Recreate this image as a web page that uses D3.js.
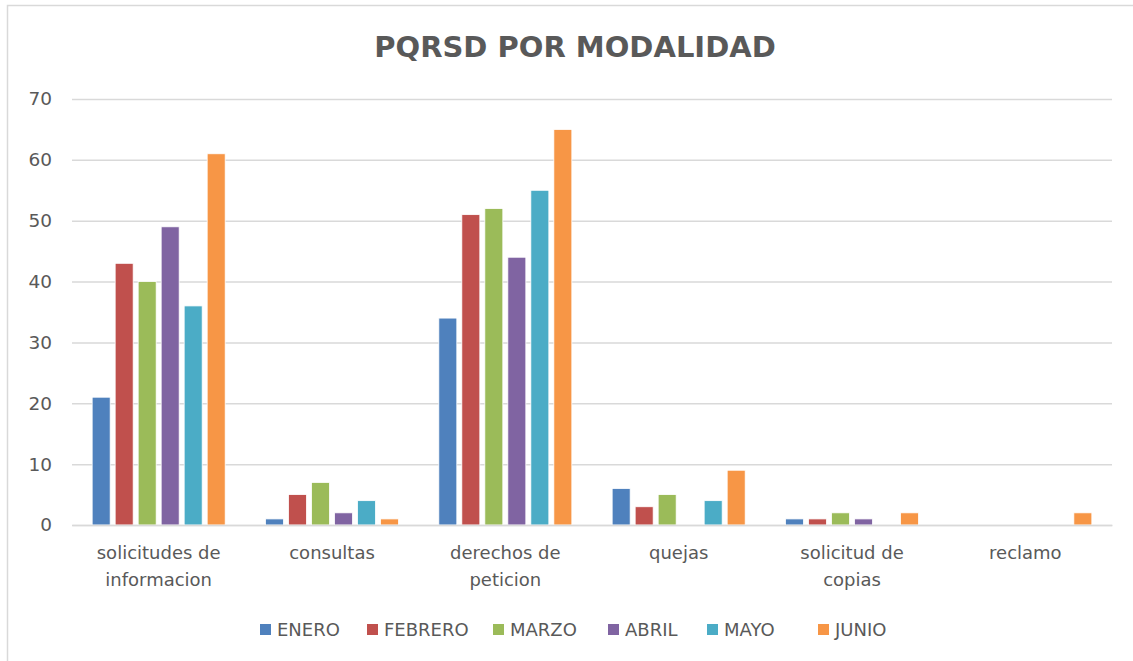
<!DOCTYPE html>
<html><head><meta charset="utf-8">
<script src="https://cdn.jsdelivr.net/npm/d3@7/dist/d3.min.js"></script>
<style>body{margin:0;background:#fff}svg{display:block}</style>
</head><body>
<svg id="c" width="1133" height="661"></svg>
<script>
const categories = [["solicitudes de","informacion"],["consultas"],["derechos de","peticion"],["quejas"],["solicitud de","copias"],["reclamo"]];
const months = ["ENERO","FEBRERO","MARZO","ABRIL","MAYO","JUNIO"];
const colors = ["#4F81BD","#C0504D","#9BBB59","#8064A2","#4BACC6","#F79646"];
const enero   = [21,1,34,6,1,0];
const febrero = [43,5,51,3,1,0];
const marzo   = [40,7,52,5,2,0];
const abril   = [49,2,44,0,1,0];
const mayo    = [36,4,55,4,0,0];
const junio   = [61,1,65,9,2,2];
const series = [enero,febrero,marzo,abril,mayo,junio];
const yTicks = [0,10,20,30,40,50,60,70];

const font = "'DejaVu Sans', sans-serif";
const svg = d3.select("#c");
svg.append("rect").attr("x",7.5).attr("y",5.5).attr("width",1140).attr("height",670)
  .attr("fill","#fff").attr("stroke","#d9d9d9").attr("stroke-width",1.5);

const L=72, R=1112, T=99, B=525;
const x0 = d3.scaleBand().domain(d3.range(categories.length)).range([L,R]).paddingInner(0).paddingOuter(0);
const x1 = d3.scaleBand().domain(d3.range(months.length)).range([0,x0.bandwidth()]).paddingOuter(0.876).paddingInner(0.217);
const y = d3.scaleLinear().domain([0,70]).range([B,T]);

const yAxis = d3.axisLeft(y).tickValues(yTicks).tickSize(-(R-L)).tickPadding(20);
const gy = svg.append("g").attr("transform",`translate(${L},0)`).call(yAxis);
gy.select(".domain").remove();
gy.selectAll(".tick line").attr("stroke","#d9d9d9").attr("stroke-width",1.5);
gy.selectAll(".tick text").attr("fill","#595959").style("font-family",font).style("font-size","18.5px");

const g = svg.append("g");
series.forEach((s,si)=>{
  g.selectAll(null).data(s).enter().append("rect")
    .attr("x",(d,i)=>x0(i)+x1(si))
    .attr("y",d=>y(d))
    .attr("width",x1.bandwidth())
    .attr("height",d=>y(0)-y(d))
    .attr("fill",colors[si])
    .attr("stroke","#fff").attr("stroke-width",0.8);
});

const xAxis = d3.axisBottom(x0).tickSize(0).tickFormat("");
const gx = svg.append("g").attr("transform",`translate(0,${B})`).call(xAxis);
gx.select(".domain").attr("stroke","#d9d9d9").attr("stroke-width",1.5);
gx.selectAll(".tick").each(function(d){
  const t = d3.select(this).select("text").attr("y",0).attr("dy",null)
    .attr("fill","#595959").style("font-family",font).style("font-size","18px");
  categories[d].forEach((line,li)=>{
    t.append("tspan").attr("x",0).attr("y",34+li*27).text(line);
  });
});

svg.append("text").attr("x",575).attr("y",57).attr("text-anchor","middle")
  .attr("fill","#595959").style("font-family",font).style("font-weight","bold").style("font-size","29px")
  .text("PQRSD POR MODALIDAD");

const legendX = [260,367,493,608,707,818];
const lg = svg.append("g");
months.forEach((m,i)=>{
  const gi = lg.append("g").attr("transform",`translate(${legendX[i]},624)`);
  gi.append("rect").attr("width",11).attr("height",11).attr("fill",colors[i]);
  gi.append("text").attr("x",17).attr("y",12).attr("fill","#595959")
    .style("font-family",font).style("font-size","18px").text(m);
});
</script>
</body></html>
